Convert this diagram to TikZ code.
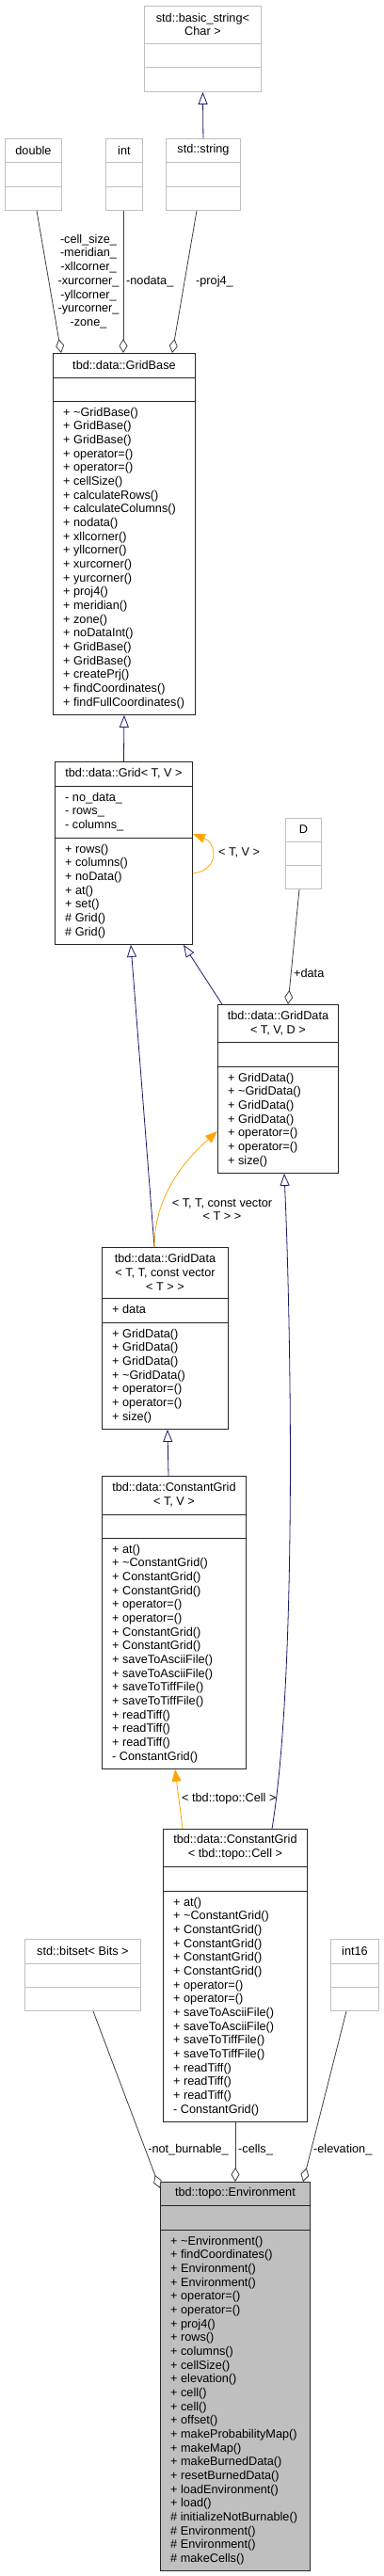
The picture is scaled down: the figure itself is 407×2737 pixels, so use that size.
\documentclass[tikz,border=0pt]{standalone}
\usepackage{fontspec}
\setmainfont{Liberation Sans}
\usetikzlibrary{arrows.meta}
\definecolor{edgegray}{HTML}{404040}
\definecolor{inhblue}{HTML}{191970}
\definecolor{tmplorange}{HTML}{FFA500}
\definecolor{extgray}{HTML}{BFBFBF}
\newcommand{\dfont}{\fontsize{12.7}{14.67}\selectfont}
% box with title part and two dividers: name, style, x, y, width, height, div1, div2, title
\newcommand{\umlclass}[9]{%
  \node[#2, anchor=north west, minimum width=#5, minimum height=#6, inner sep=0pt] (#1) at (#3,#4) {};
  \draw[#2] ([yshift=-#7]#1.north west) -- ([yshift=-#7]#1.north east);
  \draw[#2] ([yshift=-#8]#1.north west) -- ([yshift=-#8]#1.north east);
  \node[title] (#1-title) at ([yshift={-#7/2}]#1.north) {#9};
}
% one line per member: box, tag, offset of the part, list
\newcommand{\memberlist}[4]{%
  \foreach \m [count=\i] in {#4} {
    \node[member] (#1-#2\i) at ([xshift=11pt, yshift={-(#3+11.5+(\i-1)*14.67)}]#1.north west) {\m};
  }
}

\begin{document}
\begin{tikzpicture}[x=1pt, y=-1pt,
    cls/.style={draw=black!85, line width=0.9pt},
    ext/.style={draw=extgray, line width=0.9pt},
    env/.style={cls, fill=extgray},
    title/.style={font=\dfont, align=center, inner sep=0pt},
    member/.style={font=\dfont, anchor=west, inner sep=0pt, text height=9pt, text depth=0pt},
    lbl/.style={font=\dfont, align=center, inner sep=0pt},
    inherit/.style={draw=inhblue, line width=0.8pt, -{Triangle[length=13pt, width=10pt, fill=white]}},
    tmpl/.style={draw=tmplorange, line width=0.8pt, -{Triangle[length=13pt, width=10pt]}},
    aggr/.style={draw=edgegray, line width=0.8pt, {Diamond[length=15pt, width=9pt, fill=white]}-}]
    \useasboundingbox (0,0) rectangle (407,2737);

    % external types
    \umlclass{basicstr}{ext}{153}{6}{124}{91}{40}{65}{std::basic\_string<\\Char >}
    \umlclass{dbl}{ext}{5}{147}{60}{76}{25}{51}{double}
    \umlclass{intbox}{ext}{112}{147}{39}{76}{25}{51}{int}
    \umlclass{stdstr}{ext}{176}{147}{79}{76}{25}{51}{std::string}
    \umlclass{dbox}{ext}{303}{869}{38}{75}{25}{50}{D}
    \umlclass{bitset}{ext}{26}{2060}{123}{76}{26}{51}{std::bitset< Bits >}
    \umlclass{int16}{ext}{351}{2060}{51}{76}{26}{51}{int16}

    % grid classes
    \umlclass{gridbase}{cls}{56}{375}{151}{384}{26}{51}{tbd::data::GridBase}
    \memberlist{gridbase}{m}{51}{+ \textasciitilde GridBase(), + GridBase(), + GridBase(), + operator=(), + operator=(), + cellSize(), + calculateRows(), + calculateColumns(), + nodata(), + xllcorner(), + yllcorner(), + xurcorner(), + yurcorner(), + proj4(), + meridian(), + zone(), + noDataInt(), + GridBase(), + GridBase(), + createPrj(), + findCoordinates(), + findFullCoordinates()}

    \umlclass{grid}{cls}{58}{809}{146}{194}{26}{81}{tbd::data::Grid< T, V >}
    \memberlist{grid}{a}{26}{- no\_data\_, - rows\_, - columns\_}
    \memberlist{grid}{m}{81}{+ rows(), + columns(), + noData(), + at(), + set(), \# Grid(), \# Grid()}

    \umlclass{griddata}{cls}{231}{1067}{128}{179}{40}{66}{tbd::data::GridData\\< T, V, D >}
    \memberlist{griddata}{m}{66}{+ GridData(), + \textasciitilde GridData(), + GridData(), + GridData(), + operator=(), + operator=(), + size()}

    \umlclass{griddatav}{cls}{108}{1325}{134}{193}{54}{80}{tbd::data::GridData\\< T, T, const vector\\< T > >}
    \memberlist{griddatav}{a}{54}{+ data}
    \memberlist{griddatav}{m}{80}{+ GridData(), + GridData(), + GridData(), + \textasciitilde GridData(), + operator=(), + operator=(), + size()}

    \umlclass{constgrid}{cls}{108}{1568}{153}{311}{41}{66}{tbd::data::ConstantGrid\\< T, V >}
    \memberlist{constgrid}{m}{66}{+ at(), + \textasciitilde ConstantGrid(), + ConstantGrid(), + ConstantGrid(), + operator=(), + operator=(), + ConstantGrid(), + ConstantGrid(), + saveToAsciiFile(), + saveToAsciiFile(), + saveToTiffFile(), + saveToTiffFile(), + readTiff(), + readTiff(), + readTiff(), - ConstantGrid()}

    \umlclass{constcell}{cls}{173}{1943}{153}{311}{40}{66}{tbd::data::ConstantGrid\\< tbd::topo::Cell >}
    \memberlist{constcell}{m}{66}{+ at(), + \textasciitilde ConstantGrid(), + ConstantGrid(), + ConstantGrid(), + ConstantGrid(), + ConstantGrid(), + operator=(), + operator=(), + saveToAsciiFile(), + saveToAsciiFile(), + saveToTiffFile(), + saveToTiffFile(), + readTiff(), + readTiff(), + readTiff(), - ConstantGrid()}

    \umlclass{env}{env}{170}{2318}{159}{413}{25}{51}{tbd::topo::Environment}
    \memberlist{env}{m}{51}{+ \textasciitilde Environment(), + findCoordinates(), + Environment(), + Environment(), + operator=(), + operator=(), + proj4(), + rows(), + columns(), + cellSize(), + elevation(), + cell(), + cell(), + offset(), + makeProbabilityMap(), + makeMap(), + makeBurnedData(), + resetBurnedData(), + loadEnvironment(), + load(), \# initializeNotBurnable(), \# Environment(), \# Environment(), \# makeCells()}

    % inheritance
    \draw[inherit] (stdstr.north) -- (basicstr.south);
    \draw[inherit] (grid.north) -- (gridbase.south);
    \draw[inherit] ([xshift=5pt]griddata.north west) -- ([xshift=137pt]grid.south west);
    \draw[inherit] ([xshift=56pt]griddatav.north west) -- ([xshift=81pt]grid.south west);
    \draw[inherit] ([xshift=71pt]constgrid.north west) -- ([xshift=70pt]griddatav.south west);
    \draw[inherit] ([xshift=116pt]constcell.north west) .. controls +(27,-163) and +(7,154) .. ([xshift=71pt]griddata.south west);

    % template instances
    \draw[tmpl] ([yshift=-119pt]grid.north east) .. controls +(28,-3) and +(26,10) .. ([yshift=-77pt]grid.north east);
    \draw[tmpl] ([xshift=56pt]griddatav.north west) .. controls +(0,-60) and +(-28,25) .. ([yshift=-135pt]griddata.north west);
    \draw[tmpl] ([xshift=21pt]constcell.north west) -- ([xshift=78pt]constgrid.south west);

    % members
    \draw[aggr] ([xshift=9pt]gridbase.north west) -- ([xshift=34pt]dbl.south west);
    \draw[aggr] ([xshift=75pt]gridbase.north west) -- ([xshift=19pt]intbox.south west);
    \draw[aggr] ([xshift=127pt]gridbase.north west) -- ([xshift=33pt]stdstr.south west);
    \draw[aggr] ([xshift=75pt]griddata.north west) -- ([xshift=15pt]dbox.south west);
    \draw[aggr] ([yshift=-7pt]env.north west) -- ([xshift=73pt]bitset.south west);
    \draw[aggr] ([xshift=80pt]env.north west) -- ([xshift=77pt]constcell.south west);
    \draw[aggr] ([xshift=152pt]env.north west) -- ([xshift=17pt]int16.south west);

    % labels
    \node[lbl] (l-dbl) at (94,299) {-cell\_size\_\\-meridian\_\\-xllcorner\_\\-xurcorner\_\\-yllcorner\_\\-yurcorner\_\\-zone\_};
    \node[lbl, anchor=west] (l-int) at (134,299) {-nodata\_};
    \node[lbl, anchor=west] (l-str) at (208,299) {-proj4\_};
    \node[lbl, anchor=west] (l-self) at (232,906) {< T, V >};
    \node[lbl, anchor=west] (l-data) at (312,1034) {+data};
    \node[lbl] (l-vec) at (236,1285) {< T, T, const vector\\< T > >};
    \node[lbl, anchor=west] (l-cell) at (193,1911) {< tbd::topo::Cell >};
    \node[lbl, anchor=east] (l-nb) at (243,2284) {-not\_burnable\_};
    \node[lbl, anchor=west] (l-cells) at (253,2284) {-cells\_};
    \node[lbl, anchor=west] (l-elev) at (333,2284) {-elevation\_};
\end{tikzpicture}
\end{document}
